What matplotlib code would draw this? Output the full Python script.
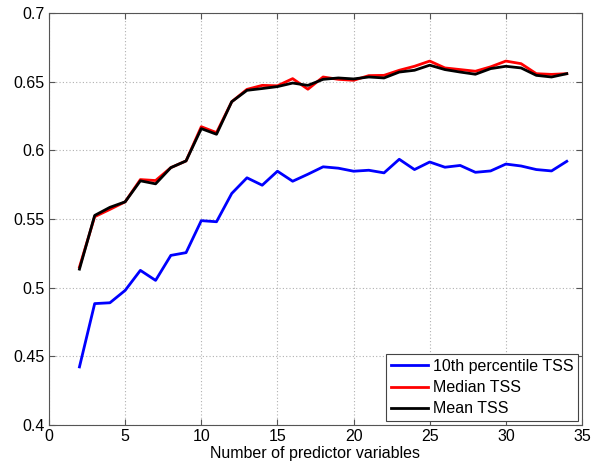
import matplotlib

matplotlib.use("Agg")
import matplotlib.pyplot as plt

n_vars = list(range(2, 35))

p10_tss = [0.4423, 0.4884, 0.489, 0.498, 0.5126, 0.5053, 0.5235, 0.5255, 0.5488, 0.548,
           0.5686, 0.580, 0.5746, 0.5848, 0.5775, 0.5826, 0.5880, 0.587, 0.5848, 0.5855,
           0.5836, 0.5935, 0.586, 0.5915, 0.5877, 0.589, 0.584, 0.585, 0.590, 0.5886,
           0.586, 0.585, 0.592]

median_tss = [0.515, 0.5517, 0.557, 0.5625, 0.5787, 0.578, 0.5874, 0.5923, 0.6172, 0.6129,
              0.6354, 0.6444, 0.6473, 0.647, 0.6522, 0.6445, 0.6534, 0.6517, 0.651, 0.6544,
              0.6546, 0.6583, 0.6612, 0.665, 0.660, 0.6588, 0.6576, 0.6608, 0.665, 0.6631,
              0.6558, 0.6553, 0.6558]

mean_tss = [0.5135, 0.5526, 0.5585, 0.5625, 0.5778, 0.5756, 0.5874, 0.5923, 0.6158, 0.6117,
            0.6354, 0.6437, 0.645, 0.6464, 0.649, 0.6473, 0.6517, 0.6527, 0.652, 0.6534,
            0.6527, 0.657, 0.6583, 0.662, 0.6588, 0.657, 0.6554, 0.6595, 0.6612, 0.660,
            0.6546, 0.6534, 0.6558]

x_ticks = [0, 5, 10, 15, 20, 25, 30, 35]
y_ticks = [0.4, 0.45, 0.5, 0.55, 0.6, 0.65, 0.7]

plt.rcParams["font.family"] = ["Liberation Sans", "DejaVu Sans"]
fs = 11.5

fig = plt.figure(figsize=(5.97, 4.65), dpi=100)
ax = fig.add_axes([49 / 597, 1 - 425 / 465, (582 - 49) / 597, (425 - 13) / 465])

ax.plot(n_vars, p10_tss, color="#0000ff", lw=2, label="10th percentile TSS")
ax.plot(n_vars, median_tss, color="#ff0000", lw=2, label="Median TSS")
ax.plot(n_vars, mean_tss, color="black", lw=2, label="Mean TSS")

ax.set_xlim(0, 35)
ax.set_ylim(0.4, 0.7)
ax.set_xticks(x_ticks, [str(t) for t in x_ticks])
ax.set_yticks(y_ticks, [f"{t:g}" for t in y_ticks])
ax.tick_params(direction="in", top=True, right=True, labelsize=fs, length=4,
               color="#555555", pad=3)
ax.grid(True, linestyle=(0, (1, 2)), color="#b0b0b0", lw=0.8)
for sp in ax.spines.values():
    sp.set_color("#555555")
ax.set_xlabel("Number of predictor variables", fontsize=fs, labelpad=1)

leg = ax.legend(loc="lower right", fontsize=fs, fancybox=False, framealpha=1,
                edgecolor="#444444", handlelength=2.3, borderaxespad=0.25,
                labelspacing=0.38, handletextpad=0.3, borderpad=0.3)
leg.get_frame().set_linewidth(0.8)

fig.savefig("out.png", dpi=100)
